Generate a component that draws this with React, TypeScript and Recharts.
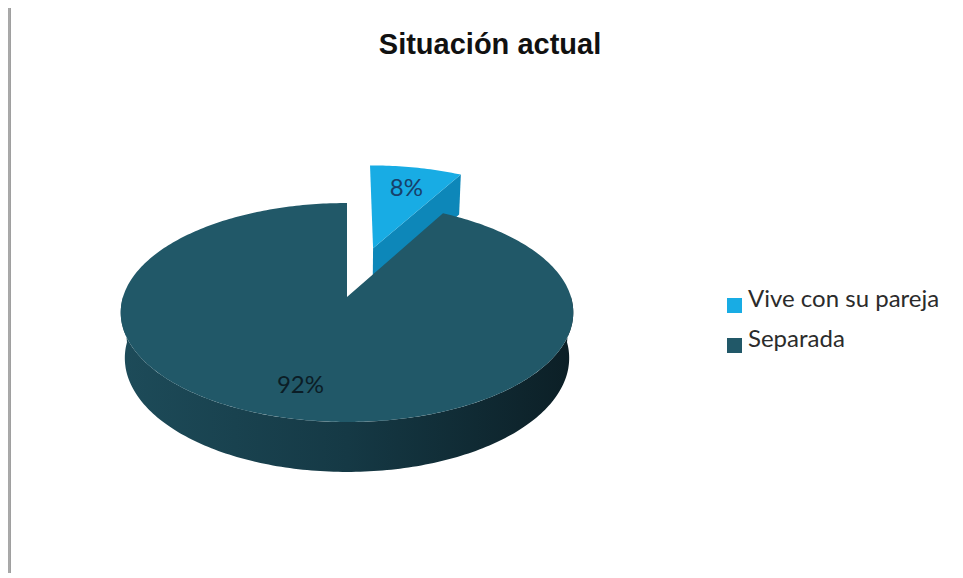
import { PieChart, Pie, Cell, Legend } from 'recharts';

const categories = ['Vive con su pareja', 'Separada'];
const values = [8, 92];

const TOP_COLORS = ['#18ace4', '#215868'];
const CUT_COLORS = ['#0d87b9', '#163c48'];
const LABEL_COLORS = ['#17406a', '#0b1d26'];
const WALL_STOPS = [
  ['#0f8fc2', '#0a6d93', '#075a7a'],
  ['#1d4b59', '#153945', '#0c1f26'],
];

const data = categories.map((name, i) => ({ name, value: values[i] }));

// fake 3D: tilted disk seen in perspective
const SIN_A = 0.479;
const COS_A = 0.878;
const DIST = 6.2;
const DEPTH = 0.234;
const EXPLODE = 0.5;
const EXPLODED = 'Vive con su pareja';
const RAD = Math.PI / 180;

function proj(cx: number, cy: number, R: number, u: number, v: number, h: number) {
  const z = DIST + v * COS_A - h * SIN_A;
  const s = DIST / z;
  return [cx + R * u * s, cy - R * (v * SIN_A + h * COS_A) * s];
}

const toPath = (pts: number[][]) =>
  'M' + pts.map((p) => p[0].toFixed(2) + ',' + p[1].toFixed(2)).join('L') + 'Z';

function Slice3D(props: any) {
  const { cx, cy, outerRadius: R, startAngle, endAngle } = props;
  const name = props.payload?.name ?? props.name;
  const idx = Math.max(0, categories.indexOf(name));
  const lo = Math.min(startAngle, endAngle);
  const hi = Math.max(startAngle, endAngle);
  const off = name === EXPLODED ? EXPLODE : 0;
  const mid = (lo + hi) / 2;
  const ou = off * Math.cos(mid * RAD);
  const ov = off * Math.sin(mid * RAD);
  const P = (a: number, r: number, h: number) =>
    proj(cx, cy, R, ou + r * Math.cos(a * RAD), ov + r * Math.sin(a * RAD), h);
  const arc = (a0: number, a1: number, h: number) => {
    const n = Math.max(2, Math.ceil(Math.abs(a1 - a0)));
    const pts = [];
    for (let i = 0; i <= n; i++) pts.push(P(a0 + ((a1 - a0) * i) / n, 1, h));
    return pts;
  };

  const parts: any[] = [];
  const gid = `wall-grad-${idx}`;

  // cut faces that look toward the viewer
  [
    [lo, lo - 90],
    [hi, hi + 90],
  ].forEach(([a, n], k) => {
    if (Math.sin(n * RAD) < -0.01) {
      const pts = [P(a, 0, 0), P(a, 1, 0), P(a, 1, -DEPTH), P(a, 0, -DEPTH)];
      parts.push(<path key={`cut${k}`} d={toPath(pts)} fill={CUT_COLORS[idx]} />);
    }
  });

  // outer wall, front half only
  for (let k = -2; k <= 1; k++) {
    const s = Math.max(lo, -180 + 360 * k);
    const e = Math.min(hi, 360 * k);
    if (e > s) {
      const pts = [...arc(s, e, 0), ...arc(e, s, -DEPTH)];
      parts.push(<path key={`wall${k}`} d={toPath(pts)} fill={`url(#${gid})`} />);
    }
  }

  const top = [P(mid, 0, 0), ...arc(lo, hi, 0)];
  parts.push(<path key="top" d={toPath(top)} fill={TOP_COLORS[idx]} />);

  const stops = WALL_STOPS[idx];
  return (
    <g>
      <defs>
        <linearGradient id={gid} gradientUnits="userSpaceOnUse" x1={cx - R} y1={0} x2={cx + R} y2={0}>
          <stop offset="0" stopColor={stops[0]} />
          <stop offset="0.5" stopColor={stops[1]} />
          <stop offset="1" stopColor={stops[2]} />
        </linearGradient>
      </defs>
      {parts}
    </g>
  );
}

function renderLabel(props: any) {
  const { cx, cy, outerRadius: R, midAngle, percent } = props;
  const name = props.payload?.name ?? props.name;
  const idx = Math.max(0, categories.indexOf(name));
  const off = name === EXPLODED ? EXPLODE : 0;
  const f = 0.75;
  const c = Math.cos(midAngle * RAD);
  const s = Math.sin(midAngle * RAD);
  const [x, y] = proj(cx, cy, R, (off + f) * c, (off + f) * s, 0);
  return (
    <text
      x={x}
      y={y}
      textAnchor="middle"
      dominantBaseline="central"
      fill={LABEL_COLORS[idx]}
      style={{ fontFamily: 'Lato, sans-serif', fontSize: 24 }}
    >
      {`${Math.round(percent * 100)}%`}
    </text>
  );
}

function renderLegend() {
  // keep the data order (Recharts sorts legend items by name otherwise)
  return (
    <div>
      {categories.map((name, i) => (
        <div key={`leg-${i}`} style={{ position: 'relative', height: 40 }}>
          <span
            style={{
              position: 'absolute',
              left: 0,
              top: 14,
              width: 15,
              height: 15,
              background: TOP_COLORS[i],
            }}
          />
          <span
            style={{
              position: 'absolute',
              left: 21,
              top: 0,
              lineHeight: '28px',
              fontFamily: 'Lato, sans-serif',
              fontSize: 24,
              color: '#2b2b2b',
              whiteSpace: 'nowrap',
            }}
          >
            {name}
          </span>
        </div>
      ))}
    </div>
  );
}

export default function App() {
  return (
    <div style={{ position: 'relative', width: 950, height: 565, background: '#fff' }}>
      <div
        style={{
          position: 'absolute',
          left: -1,
          top: -1,
          width: 4,
          height: 578,
          background: 'linear-gradient(to right, #8f8f8f, #b0b0b0, #9a9a9a)',
        }}
      />
      <div style={{ position: 'absolute', left: -1, top: -1, width: 956, height: 1, background: '#cfcfcf' }} />
      <div
        style={{
          position: 'absolute',
          left: 482,
          top: 20,
          transform: 'translateX(-50%)',
          whiteSpace: 'nowrap',
          fontFamily: '"Liberation Sans", Arial, sans-serif',
          fontWeight: 'bold',
          fontSize: 29,
          lineHeight: '33px',
          color: '#111',
        }}
      >
        Situación actual
      </div>
      <PieChart width={950} height={565} margin={{ top: 0, right: 0, bottom: 0, left: 0 }}>
        <Pie
          data={data}
          dataKey="value"
          nameKey="name"
          cx={339}
          cy={289}
          outerRadius={224}
          startAngle={90}
          endAngle={-270}
          stroke="none"
          isAnimationActive={false}
          labelLine={false}
          label={renderLabel}
          shape={Slice3D}
        >
          {data.map((_, i) => (
            <Cell key={`cell-${i}`} fill={TOP_COLORS[i]} />
          ))}
        </Pie>
        <Legend
          layout="vertical"
          verticalAlign="middle"
          align="right"
          content={renderLegend}
          wrapperStyle={{ left: 719, top: 276, width: 240, height: 80 }}
        />
      </PieChart>
    </div>
  );
}
